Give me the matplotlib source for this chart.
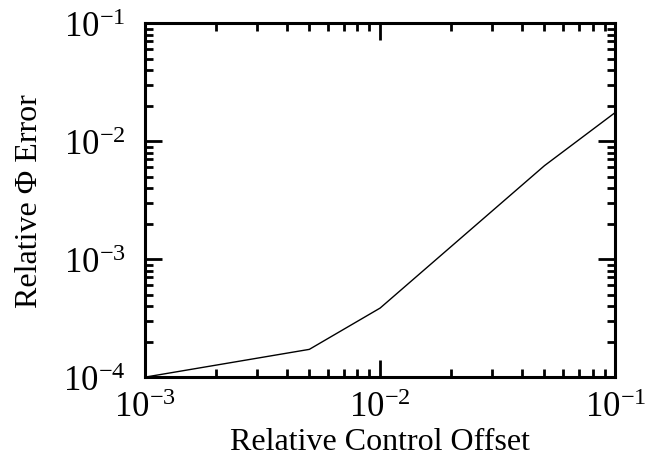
import numpy as np
import matplotlib
matplotlib.use("Agg")
import matplotlib.pyplot as plt
from matplotlib.ticker import LogLocator, NullFormatter

plt.rcParams['font.family'] = 'serif'
plt.rcParams['font.serif'] = ['Liberation Serif', 'DejaVu Serif']
plt.rcParams['mathtext.fontset'] = 'stix'

# data
offset = [1e-3, 5e-3, 1e-2, 5e-2, 1e-1]
phi_err = [1.0e-4, 1.72e-4, 3.85e-4, 6.2e-3, 1.75e-2]

fig = plt.figure(figsize=(6.47, 4.64), dpi=100)
ax = fig.add_axes([0.224, 0.185, 0.727, 0.763])

ax.plot(offset, phi_err, color='black', linewidth=1.0)

ax.set_xscale('log')
ax.set_yscale('log')
ax.set_xlim(1e-3, 1e-1)
ax.set_ylim(1e-4, 1e-1)

ax.xaxis.set_major_locator(LogLocator(base=10, numticks=10))
ax.yaxis.set_major_locator(LogLocator(base=10, numticks=10))
ax.xaxis.set_minor_locator(LogLocator(base=10, subs=np.arange(2, 10), numticks=20))
ax.yaxis.set_minor_locator(LogLocator(base=10, subs=np.arange(2, 10), numticks=20))
ax.xaxis.set_minor_formatter(NullFormatter())
ax.yaxis.set_minor_formatter(NullFormatter())

for s in ax.spines.values():
    s.set_linewidth(2.2)
ax.tick_params(which='both', direction='in', top=True, right=True, labelsize=25)
ax.tick_params(which='major', length=12, width=2)
ax.tick_params(axis='x', which='major', pad=10)
ax.tick_params(axis='y', which='major', pad=14)
ax.tick_params(which='minor', length=6, width=2)

ax.set_xlabel('Relative Control Offset', fontsize=23, labelpad=2)
ax.set_ylabel('Relative Φ Error', fontsize=23, labelpad=14)

plt.savefig('out.png', dpi=100)
